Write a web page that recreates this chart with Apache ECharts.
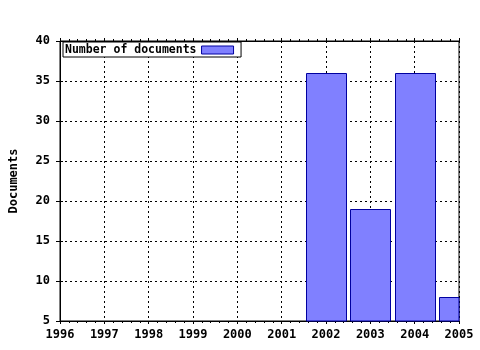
<!DOCTYPE html>
<html><head><meta charset="utf-8">
<script src="https://cdn.jsdelivr.net/npm/echarts@6/dist/echarts.min.js"></script>
<style>html,body{margin:0;padding:0;background:#fff}#c{width:480px;height:350px}</style>
</head><body><div id="c"></div>
<script>
var years = [2002, 2003, 2004, 2005];
var documents = [36, 19, 36, 8];
var xTicks = [1996, 1997, 1998, 1999, 2000, 2001, 2002, 2003, 2004, 2005];
var yTicks = [5, 10, 15, 20, 25, 30, 35, 40];
var seriesName = 'Number of documents';
var yTitle = 'Documents';

var font = 'DejaVu Sans Mono';
var chart = echarts.init(document.getElementById('c'), null, {renderer: 'canvas'});
var data = years.map(function (y, i) { return [y, documents[i]]; });
var lab = {fontFamily: font, fontWeight: 'bold', fontSize: 12, color: '#000'};
var xCommon = {
  type: 'value', min: xTicks[0], max: xTicks[xTicks.length - 1], interval: 1,
  axisLine: {show: true, lineStyle: {color: '#000', width: 1}},
  axisTick: {show: true, inside: false, length: 3, lineStyle: {color: '#000'}},
  minorTick: {show: true, splitNumber: 5, length: 2, lineStyle: {color: '#000'}}
};
chart.setOption({
  animation: false,
  backgroundColor: '#fff',
  grid: {left: 56, right: 21, top: 41, bottom: 29, show: true, borderColor: '#000', borderWidth: 1, backgroundColor: 'transparent'},
  legend: {
    show: true, left: 63, top: 42, align: 'right', orient: 'horizontal',
    padding: [2, 7, 1, 2], borderColor: '#000', borderWidth: 1, backgroundColor: '#fff',
    itemWidth: 32, itemHeight: 8, icon: 'rect',
    itemStyle: {color: '#8080ff', borderColor: '#0000a0', borderWidth: 1},
    textStyle: {fontFamily: font, fontWeight: 'bold', fontSize: 11.5, color: '#000'},
    data: [seriesName]
  },
  xAxis: [
    Object.assign({}, xCommon, {
      position: 'bottom',
      axisLabel: Object.assign({show: true, margin: 8, formatter: function (v) { return String(v); }}, lab),
      splitLine: {show: true, lineStyle: {color: '#000', type: [2, 3], width: 1}}
    }),
    Object.assign({}, xCommon, {
      position: 'top',
      axisLabel: {show: false},
      splitLine: {show: false}
    })
  ],
  yAxis: [{
    type: 'value', min: yTicks[0], max: yTicks[yTicks.length - 1], interval: 5, position: 'left',
    name: yTitle, nameLocation: 'middle', nameGap: 40, nameRotate: 90,
    nameTextStyle: lab,
    axisLine: {show: true, lineStyle: {color: '#000'}},
    axisTick: {show: true, inside: false, length: 4, lineStyle: {color: '#000'}},
    axisLabel: Object.assign({margin: 10}, lab),
    splitLine: {show: true, lineStyle: {color: '#000', type: [2, 3], width: 1}}
  }, {
    type: 'value', min: yTicks[0], max: yTicks[yTicks.length - 1], interval: 5, position: 'left', offset: 0,
    axisLine: {show: false},
    axisTick: {show: true, inside: true, length: 3, lineStyle: {color: '#000'}},
    axisLabel: {show: false},
    splitLine: {show: false}
  }],
  series: [{
    name: seriesName, type: 'custom', data: data,
    itemStyle: {color: '#8080ff', borderColor: '#0000a0', borderWidth: 1},
    encode: {x: 0, y: 1},
    renderItem: function (params, api) {
      var x = api.value(0), v = api.value(1);
      var p1 = api.coord([x - 0.45, v]);
      var p0 = api.coord([x + 0.45, yTicks[0]]);
      var rect = {x: Math.round(p1[0]) + 0.5, y: Math.round(p1[1]) + 0.5,
        width: Math.round(p0[0] - p1[0]), height: Math.round(p0[1] - p1[1])};
      var cs = params.coordSys;
      var clipped = echarts.graphic.clipRectByRect(rect, {x: cs.x, y: cs.y, width: cs.width, height: cs.height});
      if (!clipped) return null;
      return {type: 'rect', shape: clipped,
        style: {fill: '#8080ff', stroke: '#0000a0', lineWidth: 1}};
    }
  }]
});
</script></body></html>
